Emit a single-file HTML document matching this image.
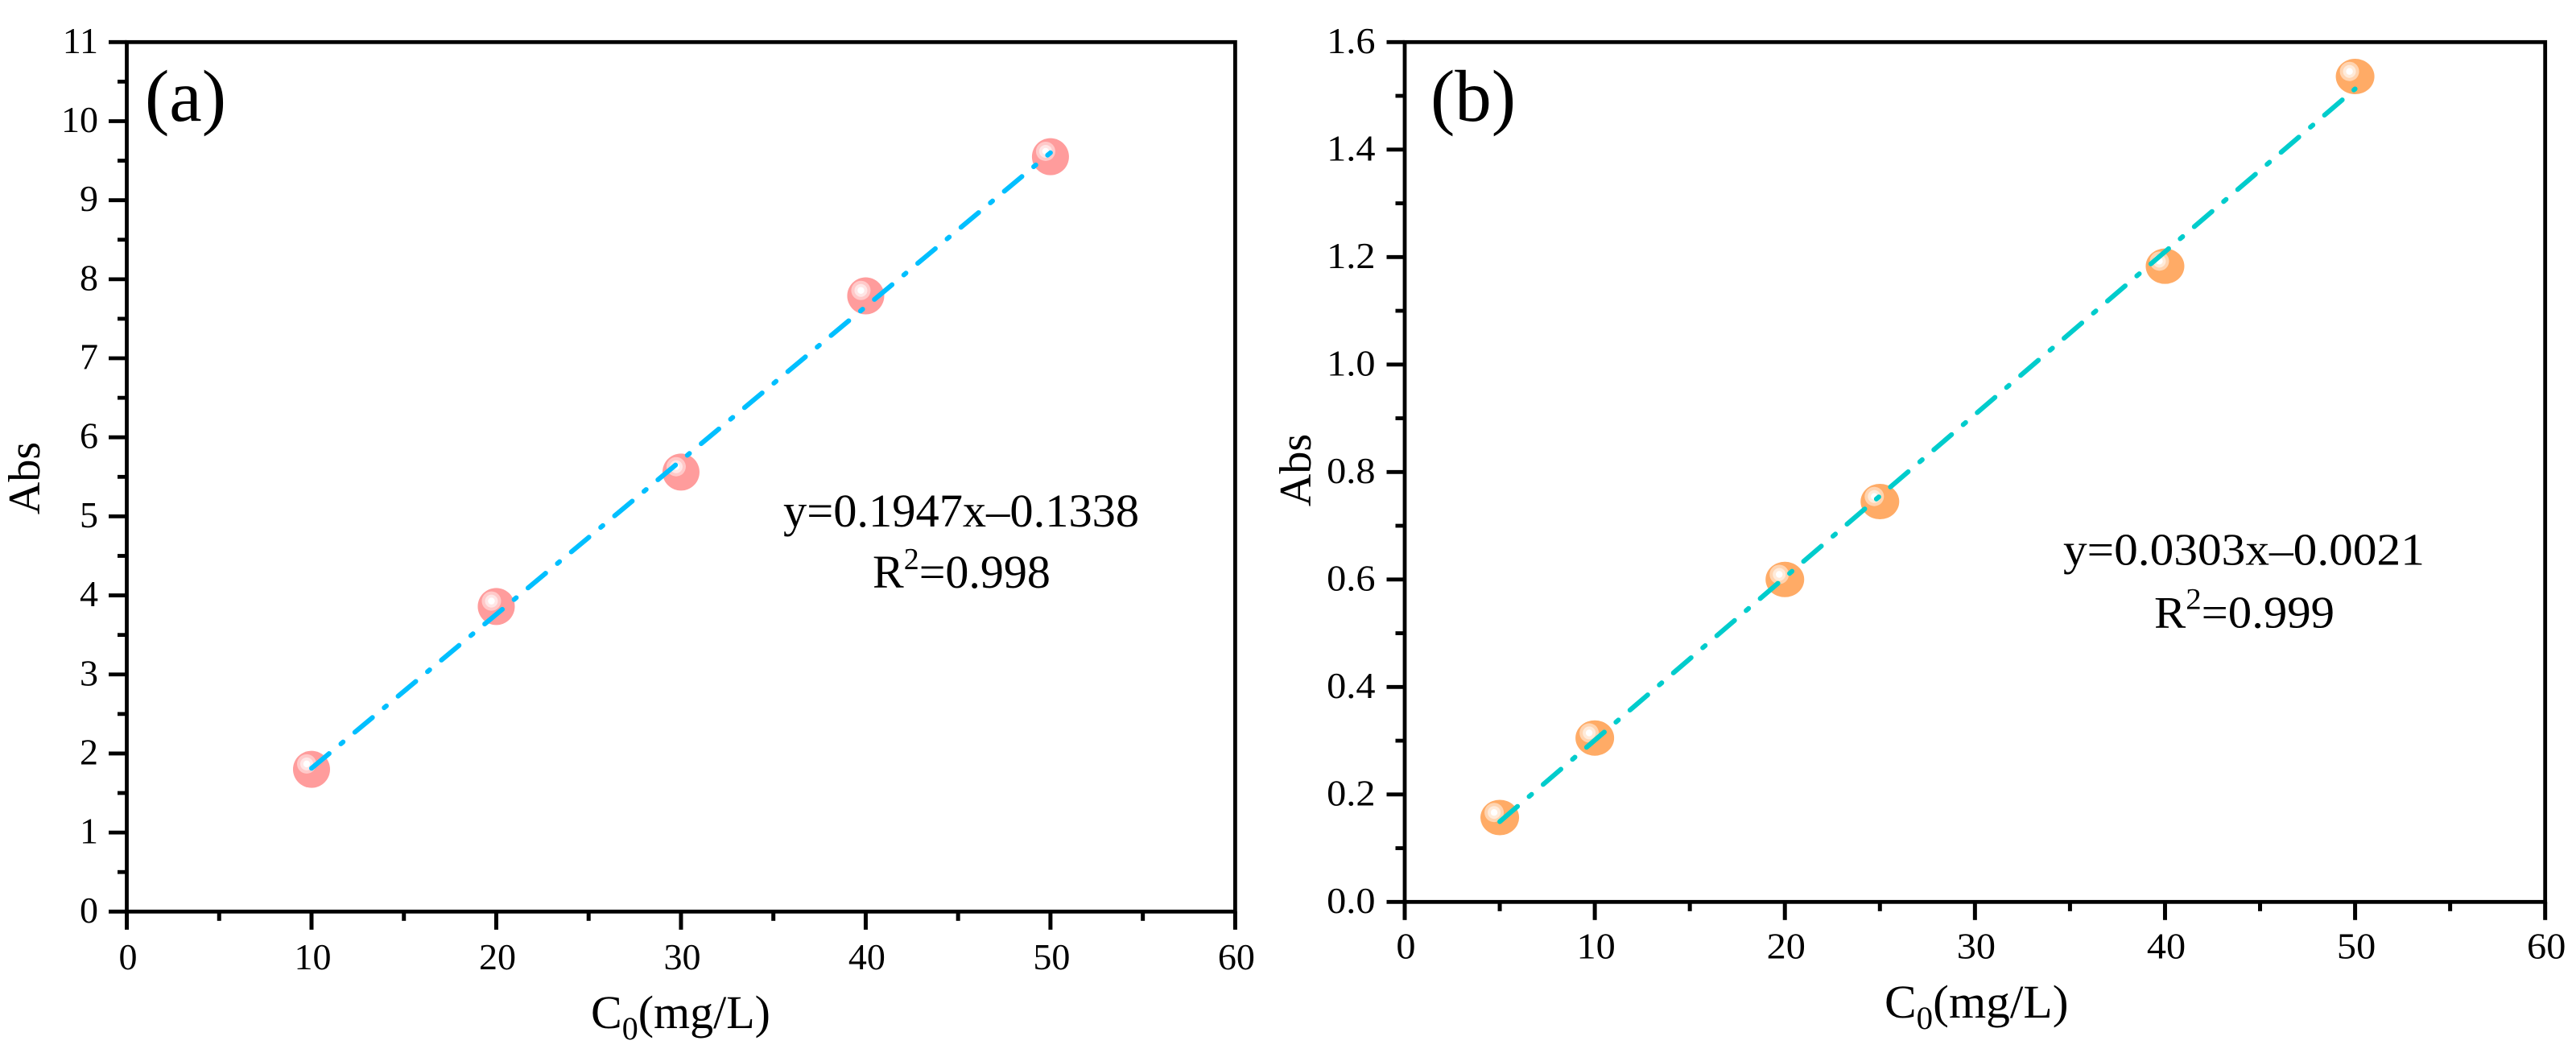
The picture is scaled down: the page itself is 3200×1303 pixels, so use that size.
<!DOCTYPE html>
<html lang="en">
<head>
<meta charset="utf-8">
<title>Calibration curves (a) and (b)</title>
<style>
  html, body { margin: 0; padding: 0; background: #fff; }
  svg { display: block; }
  text { font-family: "Liberation Serif", "Times New Roman", serif; fill: #000; }
</style>
</head>
<body>
<svg id="figure" xmlns="http://www.w3.org/2000/svg" width="3200" height="1303" viewBox="0 0 3200 1303">
  <rect x="0" y="0" width="3200" height="1303" fill="#fff"/>

  <g id="panel-a"></g>
  <g id="panel-b"></g>

  <text x="180" y="150" font-size="91">(a)</text>
  <text transform="translate(49,594) rotate(-90)" text-anchor="middle" font-size="56">Abs</text>
  <text x="734" y="1277" font-size="58">C<tspan font-size="40" dy="14">0</tspan><tspan dy="-14">(mg/L)</tspan></text>
  <text transform="translate(973,654) scale(1.008,1)" font-size="58">y=0.1947x–0.1338</text>
  <text x="1084" y="730" font-size="58">R<tspan font-size="38" dy="-23">2</tspan><tspan dy="23">=0.998</tspan></text>

  <text x="1777" y="150" font-size="91">(b)</text>
  <text transform="translate(1628,584) rotate(-90)" text-anchor="middle" font-size="56">Abs</text>
  <text transform="translate(2341,1264) scale(1.025,1)" font-size="58">C<tspan font-size="40" dy="14">0</tspan><tspan dy="-14">(mg/L)</tspan></text>
  <text transform="translate(2563,701.7) scale(1.06,1)" font-size="56">y=0.0303x–0.0021</text>
  <text transform="translate(2676,779.3) scale(1.05,1)" font-size="56">R<tspan font-size="37" dy="-23">2</tspan><tspan dy="23">=0.999</tspan></text>
</svg>

<script>
// Panel (a) data
const concentrationA = [10, 20, 30, 40, 50];
const absorbanceA = [1.80, 3.86, 5.56, 7.79, 9.55];
const fitXA = [10, 50];
const fitYA = [1.813, 9.60];
const xTickLabelsA = ['0', '10', '20', '30', '40', '50', '60'];
const xMinorTicksA = [5, 15, 25, 35, 45, 55];
const yTickLabelsA = ['0', '1', '2', '3', '4', '5', '6', '7', '8', '9', '10', '11'];
const yMinorTicksA = [0.5, 1.5, 2.5, 3.5, 4.5, 5.5, 6.5, 7.5, 8.5, 9.5, 10.5];

// Panel (b) data
const concentrationB = [5, 10, 20, 25, 40, 50];
const absorbanceB = [0.157, 0.305, 0.60, 0.745, 1.183, 1.536];
const fitXB = [5, 50];
const fitYB = [0.1494, 1.5129];
const xTickLabelsB = ['0', '10', '20', '30', '40', '50', '60'];
const xMinorTicksB = [5, 15, 25, 35, 45, 55];
const yTickLabelsB = ['0.0', '0.2', '0.4', '0.6', '0.8', '1.0', '1.2', '1.4', '1.6'];
const yMinorTicksB = [0.1, 0.3, 0.5, 0.7, 0.9, 1.1, 1.3, 1.5];

const SVG_NS = 'http://www.w3.org/2000/svg';

function make(parent, tag, attrs) {
  const el = document.createElementNS(SVG_NS, tag);
  for (const k in attrs) el.setAttribute(k, attrs[k]);
  parent.appendChild(el);
  return el;
}

function drawPanel(root, prefix, layout, xs, ys, fitX, fitY, xLabels, xMinor, yLabels, yMinor) {
  const xMax = Number(xLabels[xLabels.length - 1]);
  const yMax = Number(yLabels[yLabels.length - 1]);
  const sx = function (v) { return layout.left + (v / xMax) * (layout.right - layout.left); };
  const sy = function (v) { return layout.bottom - (v / yMax) * (layout.bottom - layout.top); };

  const frame = make(root, 'rect', { x: layout.left, y: layout.top, width: layout.right - layout.left, height: layout.bottom - layout.top, fill: 'none', stroke: '#000', 'stroke-width': 4.8 });
  
  

  xLabels.forEach(function (label) {
    const v = Number(label);
    const tick = make(root, 'line', { x1: sx(v), x2: sx(v), y1: layout.bottom, y2: layout.bottom + 22.5, stroke: '#000', 'stroke-width': 5 });
    
    
    const text = make(root, 'text', { transform: 'translate(' + (sx(v) + 1.5) + ',' + layout.xLabelY + ') scale(' + layout.textStretch + ',1)', 'text-anchor': 'middle', 'font-size': 46 });
    text.textContent = label;
    
    
  });
  xMinor.forEach(function (v) {
    const tick = make(root, 'line', { x1: sx(v), x2: sx(v), y1: layout.bottom, y2: layout.bottom + 11.5, stroke: '#000', 'stroke-width': 5 });
    
    
  });
  yLabels.forEach(function (label) {
    const v = Number(label);
    const tick = make(root, 'line', { x1: layout.left - 22.5, x2: layout.left, y1: sy(v), y2: sy(v), stroke: '#000', 'stroke-width': 4.8 });
    
    
    const text = make(root, 'text', { transform: 'translate(' + layout.yLabelX + ',' + (sy(v) + 13.5) + ') scale(' + layout.textStretch + ',1)', 'text-anchor': 'end', 'font-size': 46 });
    text.textContent = label;
    
    
  });
  yMinor.forEach(function (v) {
    const tick = make(root, 'line', { x1: layout.left - 11.5, x2: layout.left, y1: sy(v), y2: sy(v), stroke: '#000', 'stroke-width': 4.8 });
    
    
  });

  xs.forEach(function (x, i) {
    const g = make(root, 'g', { transform: 'translate(' + sx(x) + ',' + sy(ys[i]) + ')' });
    
    
    make(g, 'ellipse', { cx: 0, cy: 0, rx: layout.markerRx, ry: layout.markerRy, fill: layout.markerFill });
    make(g, 'circle', { cx: layout.glintX, cy: layout.glintY, r: 12, fill: layout.glintOuter });
    make(g, 'circle', { cx: layout.glintX, cy: layout.glintY, r: 8, fill: layout.glintMid });
    make(g, 'circle', { cx: layout.glintX, cy: layout.glintY, r: 4.2, fill: '#fff' });
  });

  const fit = make(root, 'line', { x1: sx(fitX[0]), y1: sy(fitY[0]), x2: sx(fitX[1]), y2: sy(fitY[1]), stroke: layout.lineColor, 'stroke-width': 6, 'stroke-linecap': 'round', 'stroke-dasharray': layout.dash, fill: 'none' });
  
  
}

drawPanel(document.getElementById('panel-a'), 'panel-a', {
  left: 157.5, right: 1534.4, top: 52.3, bottom: 1132.3,
  xLabelY: 1204, yLabelX: 122, textStretch: 1,
  markerRx: 23, markerRy: 23, markerFill: '#FF9C9C',
  glintX: -6, glintY: -6.7, glintOuter: '#FFC9C9', glintMid: '#FFE6E6',
  lineColor: '#00BFFF', dash: '28.5 19 3.5 19'
}, concentrationA, absorbanceA, fitXA, fitYA, xTickLabelsA, xMinorTicksA, yTickLabelsA, yMinorTicksA);

drawPanel(document.getElementById('panel-b'), 'panel-b', {
  left: 1745, right: 3161.7, top: 52.3, bottom: 1120.3,
  xLabelY: 1190.7, yLabelX: 1708.5, textStretch: 1.05,
  markerRx: 24, markerRy: 22, markerFill: '#FFAB66',
  glintX: -7, glintY: -6.3, glintOuter: '#FFD4B0', glintMid: '#FFEBDA',
  lineColor: '#00CCCC', dash: '29 19 4 19'
}, concentrationB, absorbanceB, fitXB, fitYB, xTickLabelsB, xMinorTicksB, yTickLabelsB, yMinorTicksB);
</script>
</body>
</html>
